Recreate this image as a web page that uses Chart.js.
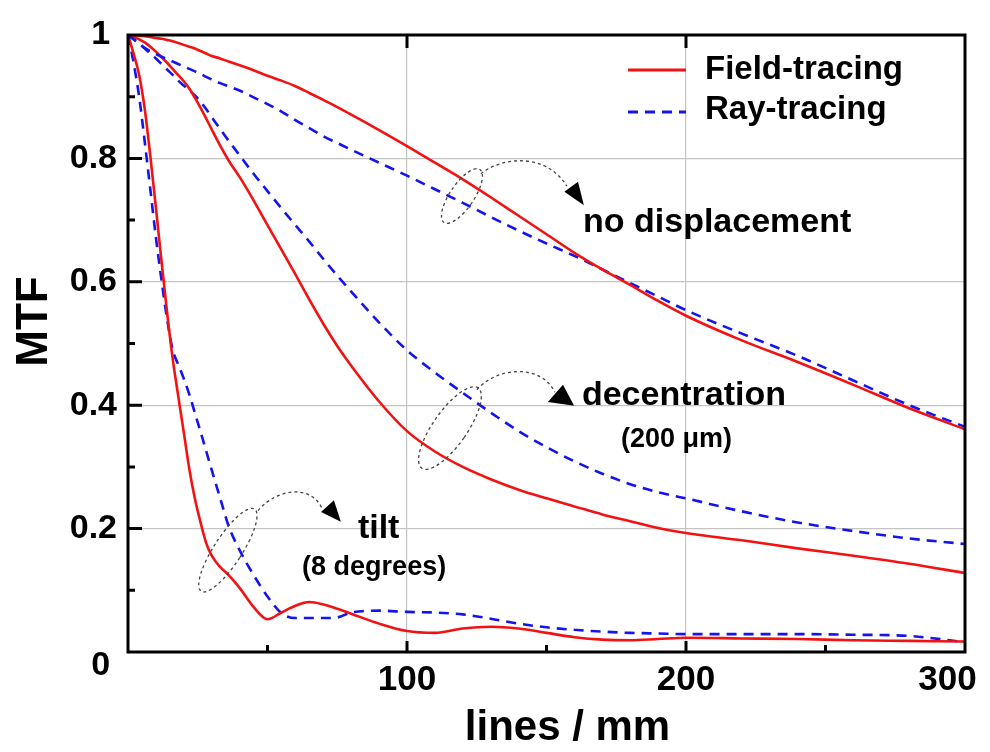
<!DOCTYPE html>
<html>
<head>
<meta charset="utf-8">
<script src="https://cdn.jsdelivr.net/npm/chart.js@4/dist/chart.umd.min.js"></script>
<style>
  html, body { margin: 0; padding: 0; background: #ffffff; }
  #wrap { width: 990px; height: 752px; position: relative; }
</style>
</head>
<body>
<div id="wrap"><canvas id="c"></canvas></div>
<script>
// ---------------- data ----------------
const freq = [0, 2, 4, 6, 8, 10, 12, 14, 16, 18, 20, 22, 24, 26, 28, 30, 33, 36, 40, 45, 50, 55, 60, 65, 70, 75, 80, 90, 100, 110, 120, 130, 140, 150, 160, 170, 180, 190, 200, 220, 240, 260, 280, 300];

const fieldNoDisp = [1, 1.0, 0.999, 0.998, 0.997, 0.995, 0.994, 0.992, 0.99, 0.987, 0.984, 0.981, 0.978, 0.974, 0.970, 0.966, 0.962, 0.957, 0.951, 0.943, 0.934, 0.926, 0.917, 0.906, 0.895, 0.883, 0.871, 0.846, 0.82, 0.793, 0.766, 0.737, 0.707, 0.677, 0.647, 0.62, 0.595, 0.569, 0.545, 0.505, 0.47, 0.433, 0.395, 0.361];
const rayNoDisp = [1, 0.993, 0.986, 0.979, 0.974, 0.969, 0.965, 0.961, 0.957, 0.953, 0.949, 0.945, 0.941, 0.937, 0.932, 0.928, 0.922, 0.917, 0.91, 0.899, 0.888, 0.876, 0.862, 0.849, 0.836, 0.825, 0.814, 0.793, 0.772, 0.75, 0.728, 0.705, 0.683, 0.662, 0.642, 0.62, 0.598, 0.576, 0.554, 0.516, 0.48, 0.44, 0.4, 0.365];

const fieldDecent = [1, 0.997, 0.993, 0.988, 0.981, 0.973, 0.964, 0.955, 0.945, 0.935, 0.925, 0.913, 0.898, 0.882, 0.865, 0.847, 0.821, 0.797, 0.77, 0.732, 0.692, 0.652, 0.612, 0.571, 0.532, 0.496, 0.464, 0.406, 0.358, 0.325, 0.3, 0.28, 0.263, 0.249, 0.236, 0.223, 0.212, 0.201, 0.193, 0.181, 0.168, 0.156, 0.143, 0.128];
const rayDecent = [1, 0.993, 0.986, 0.978, 0.97, 0.962, 0.953, 0.944, 0.9355, 0.926, 0.918, 0.91, 0.902, 0.892, 0.88, 0.867, 0.848, 0.829, 0.805, 0.775, 0.747, 0.719, 0.692, 0.665, 0.637, 0.61, 0.584, 0.534, 0.489, 0.453, 0.42, 0.388, 0.358, 0.332, 0.309, 0.289, 0.272, 0.259, 0.249, 0.228, 0.21, 0.196, 0.184, 0.175];

const fieldTilt = [1, 0.97, 0.935, 0.88, 0.804, 0.72, 0.634, 0.551, 0.476, 0.415, 0.356, 0.296, 0.248, 0.21, 0.177, 0.156, 0.138, 0.125, 0.104, 0.073, 0.053, 0.064, 0.075, 0.081, 0.077, 0.07, 0.062, 0.046, 0.034, 0.031, 0.038, 0.041, 0.038, 0.031, 0.024, 0.02, 0.019, 0.021, 0.023, 0.022, 0.021, 0.019, 0.018, 0.017];
const rayTilt = [1, 0.955, 0.90, 0.827, 0.75, 0.672, 0.603, 0.54, 0.49, 0.466, 0.443, 0.417, 0.387, 0.357, 0.326, 0.295, 0.25, 0.205, 0.165, 0.125, 0.09, 0.063, 0.055, 0.055, 0.055, 0.056, 0.064, 0.067, 0.065, 0.064, 0.061, 0.054, 0.046, 0.04, 0.036, 0.033, 0.031, 0.03, 0.029, 0.029, 0.029, 0.028, 0.026, 0.016];

const xTickLabels = { 100: '100', 200: '200', 300: '300' };
const yTickLabels = { 0: '0', 2: '0.2', 4: '0.4', 6: '0.6', 8: '0.8', 10: '1' };
const legendLabels = ['Field-tracing', 'Ray-tracing'];
const noteTexts = ['no displacement', 'decentration', '(200 \u03BCm)', 'tilt', '(8 degrees)'];
const xTitle = 'lines / mm';
const yTitle = 'MTF';

// ---------------- chart ----------------
const RED = '#f21212';
const BLUE = '#1414ee';
const FONT = '"Liberation Sans", Arial, Helvetica, sans-serif';

function pts(ys) { return freq.map((x, i) => ({ x: x, y: ys[i] })); }
function redSet(ys, label) {
  return { label: label, data: pts(ys), borderColor: RED, borderWidth: 2.6, pointRadius: 0, fill: false, cubicInterpolationMode: 'monotone' };
}
function blueSet(ys, label) {
  return { label: label, data: pts(ys), borderColor: BLUE, borderWidth: 2.6, borderDash: [10, 7], pointRadius: 0, fill: false, cubicInterpolationMode: 'monotone' };
}

const decor = {
  id: 'decor',
  afterDraw(chart) {
    const ctx = chart.ctx;
    const a = chart.chartArea;
    const xs = chart.scales.x, ys = chart.scales.y;
    const X = v => xs.getPixelForValue(v);
    const Y = v => ys.getPixelForValue(v);
    ctx.save();

    // frame
    ctx.strokeStyle = '#000';
    ctx.lineWidth = 3;
    ctx.strokeRect(a.left, a.top, a.right - a.left, a.bottom - a.top);

    // inward ticks
    ctx.lineWidth = 3;
    ctx.beginPath();
    for (let k = 1; k <= 9; k++) {
      const py = Y(k / 10);
      const len = (k % 2 === 0) ? 14 : 7;
      ctx.moveTo(a.left, py); ctx.lineTo(a.left + len, py);
    }
    [50, 100, 150, 200, 250].forEach(v => {
      const px = X(v);
      const len = (v % 100 === 0) ? 11 : 7;
      ctx.moveTo(px, a.bottom); ctx.lineTo(px, a.bottom - len);
    });
    [100, 200].forEach(v => {
      const px = X(v);
      ctx.moveTo(px, a.top); ctx.lineTo(px, a.top + 13);
    });
    ctx.stroke();

    // annotation ellipses (dashed gray)
    ctx.strokeStyle = '#444';
    ctx.lineWidth = 1.3;
    ctx.setLineDash([3, 3]);
    function ell(cx, cy, rx, ry, deg) {
      ctx.beginPath();
      ctx.ellipse(X(cx), Y(cy), rx, ry, deg * Math.PI / 180, 0, Math.PI * 2);
      ctx.stroke();
    }
    ell(119.7, 0.739, 12, 32, 34);
    ell(115.4, 0.363, 17, 49, 35);
    ell(35.8, 0.165, 14, 49, 33);

    function curve(p) {
      ctx.beginPath();
      ctx.moveTo(X(p[0]), Y(p[1]));
      ctx.bezierCurveTo(X(p[2]), Y(p[3]), X(p[4]), Y(p[5]), X(p[6]), Y(p[7]));
      ctx.stroke();
    }
    curve([126.5, 0.775, 133.3, 0.801, 149.5, 0.812, 157.3, 0.755]);
    curve([125.1, 0.425, 131.5, 0.460, 147.7, 0.470, 153.0, 0.421]);
    curve([46.6, 0.229, 52.7, 0.263, 65.2, 0.274, 69.5, 0.233]);
    ctx.setLineDash([]);

    // arrow heads
    ctx.fillStyle = '#000';
    function tri(p) {
      ctx.beginPath();
      ctx.moveTo(X(p[0]), Y(p[1]));
      ctx.lineTo(X(p[2]), Y(p[3]));
      ctx.lineTo(X(p[4]), Y(p[5]));
      ctx.closePath();
      ctx.fill();
    }
    tri([156.4, 0.746, 161.3, 0.762, 163.4, 0.724]);
    tri([150.5, 0.405, 155.9, 0.433, 159.9, 0.399]);
    tri([69.2, 0.227, 73.8, 0.246, 76.3, 0.211]);

    // annotation texts
    ctx.fillStyle = '#000';
    ctx.textAlign = 'left';
    ctx.textBaseline = 'alphabetic';
    ctx.font = 'bold 34px ' + FONT;
    ctx.fillText(noteTexts[0], X(163.1), Y(0.681));
    ctx.fillText(noteTexts[1], X(162.7), Y(0.400));
    ctx.fillText(noteTexts[3], X(82.4), Y(0.185));
    ctx.font = 'bold 27px ' + FONT;
    ctx.fillText(noteTexts[2], X(176.7), Y(0.332));
    ctx.fillText(noteTexts[4], X(62.4), Y(0.125));

    // legend
    const lx0 = a.right - 337, lx1 = a.right - 279, tx = a.right - 260;
    ctx.lineWidth = 3;
    ctx.strokeStyle = RED;
    ctx.beginPath(); ctx.moveTo(lx0, a.top + 35); ctx.lineTo(lx1, a.top + 35); ctx.stroke();
    ctx.strokeStyle = BLUE;
    ctx.setLineDash([10, 7]);
    ctx.beginPath(); ctx.moveTo(lx0, a.top + 77); ctx.lineTo(lx1, a.top + 77); ctx.stroke();
    ctx.setLineDash([]);
    ctx.font = 'bold 33px ' + FONT;
    ctx.fillStyle = '#000';
    ctx.fillText(legendLabels[0], tx, a.top + 44);
    ctx.fillText(legendLabels[1], tx, a.top + 84);

    ctx.restore();
  }
};

new Chart(document.getElementById('c'), {
  type: 'line',
  data: {
    datasets: [
      redSet(fieldNoDisp, 'Field-tracing (no displacement)'),
      blueSet(rayNoDisp, 'Ray-tracing (no displacement)'),
      redSet(fieldDecent, 'Field-tracing (decentration)'),
      blueSet(rayDecent, 'Ray-tracing (decentration)'),
      redSet(fieldTilt, 'Field-tracing (tilt)'),
      blueSet(rayTilt, 'Ray-tracing (tilt)')
    ]
  },
  options: {
    responsive: true,
    maintainAspectRatio: false,
    animation: false,
    layout: { padding: { top: 35, right: 25, left: 0, bottom: 0 } },
    plugins: { legend: { display: false }, tooltip: { enabled: false } },
    scales: {
      x: {
        type: 'linear', min: 0, max: 300,
        border: { display: false },
        grid: {
          drawTicks: false,
          lineWidth: 1.2,
          color: c => (c.tick && (c.tick.value === 100 || c.tick.value === 200)) ? '#c4c4c4' : 'rgba(0,0,0,0)'
        },
        ticks: {
          stepSize: 50,
          autoSkip: false,
          maxRotation: 0,
          padding: 7,
          color: '#000',
          font: { family: FONT, size: 35, weight: 'bold' },
          callback: v => {
            const s = xTickLabels[Math.round(v)] || '';
            return Math.round(v) === 300 ? s + '\u2002\u2002' : s;
          }
        },
        title: {
          display: true, text: '\u2002\u2002' + xTitle, color: '#000',
          font: { family: FONT, size: 42, weight: 'bold' },
          padding: { top: 0, bottom: -2 }
        },
        afterFit: s => { s.height = 100; s.paddingLeft = 0; s.paddingRight = 0; }
      },
      y: {
        type: 'linear', min: 0, max: 1,
        border: { display: false },
        grid: {
          drawTicks: false,
          lineWidth: 1.2,
          color: c => {
            if (!c.tick) return 'rgba(0,0,0,0)';
            const r = Math.round(c.tick.value * 10);
            return (r === 2 || r === 4 || r === 6 || r === 8) ? '#c4c4c4' : 'rgba(0,0,0,0)';
          }
        },
        ticks: {
          stepSize: 0.1,
          autoSkip: false,
          padding: 11,
          color: '#000',
          font: c => {
            const r = c.tick ? Math.round(c.tick.value * 10) : 1;
            return { family: FONT, size: 34, weight: 'bold', lineHeight: r === 0 ? 0.82 : 1.2 };
          },
          callback: v => {
            const r = Math.round(v * 10);
            const s = yTickLabels[r];
            if (s === undefined) return '';
            if (r === 0) return ['', s + '\u2009'];
            if (r === 10) return s + '\u2009';
            return s;
          }
        },
        title: {
          display: true, text: '\u2002\u2002' + yTitle, color: '#000',
          font: { family: FONT, size: 44, weight: 'bold' },
          padding: { top: 8, bottom: 0 }
        },
        afterFit: s => { s.width = 128; s.paddingTop = 0; s.paddingBottom = 0; }
      }
    }
  },
  plugins: [decor]
});
</script>
</body>
</html>
